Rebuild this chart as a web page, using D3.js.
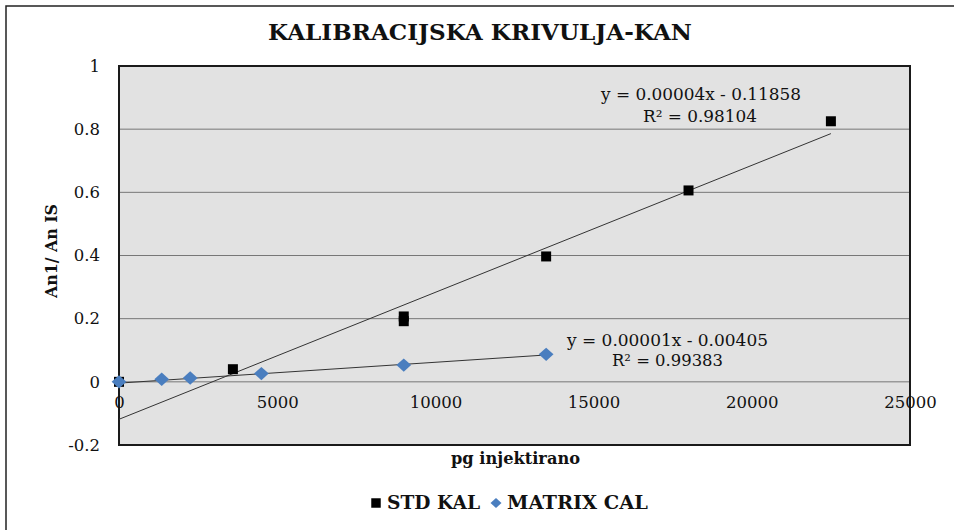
<!DOCTYPE html>
<html><head><meta charset="utf-8">
<script src="https://cdn.jsdelivr.net/npm/d3@7"></script>
<style>body{margin:0;background:#fff}svg{display:block}</style>
</head><body><svg id="c" width="954" height="530"></svg>
<script>
const stdX = [0, 3600, 9000, 9000, 13500, 18000, 22500];
const stdY = [0, 0.04, 0.192, 0.207, 0.397, 0.606, 0.825];
const matX = [0, 1350, 2250, 4500, 9000, 13500];
const matY = [0, 0.008, 0.012, 0.026, 0.053, 0.087];
const stdTrend = {slope: 0.0000402, intercept: -0.11858, x0: 0, x1: 22500};
const matTrend = {slope: 0.0000066, intercept: -0.00405, x0: 0, x1: 13500};
const xTicks = [0, 5000, 10000, 15000, 20000, 25000];
const yTicks = [-0.2, 0, 0.2, 0.4, 0.6, 0.8, 1];
const seriesNames = ["STD KAL", "MATRIX CAL"];

const FF = "'DejaVu Serif', serif";
const svg = d3.select("#c").style("font-family", FF);
const L = 119, R = 910, T = 66, B = 445;
const x = d3.scaleLinear().domain([0, 25000]).range([L, R]);
const y = d3.scaleLinear().domain([-0.2, 1]).range([B, T]);

svg.append("rect").attr("x", 6).attr("y", 6).attr("width", 960).attr("height", 540)
  .attr("fill", "#fff").attr("stroke", "#222").attr("stroke-width", 1.5);

const txt = (xx, yy, s, size, bold, len, anchor = "start") =>
  svg.append("text").attr("x", xx).attr("y", yy).attr("font-size", size)
    .attr("font-weight", bold ? "bold" : "normal").attr("fill", "#111")
    .attr("text-anchor", anchor).style("font-family", FF)
    .attr("textLength", len).attr("lengthAdjust", "spacingAndGlyphs").text(s);

txt(268, 40, "KALIBRACIJSKA KRIVULJA-KAN", 23, true, 424);

svg.append("rect").attr("x", L).attr("y", T).attr("width", R - L).attr("height", B - T)
  .attr("fill", "#e2e2e2");
svg.append("g").selectAll("line").data(yTicks.filter(d => d > -0.2 && d < 1)).join("line")
  .attr("x1", L).attr("x2", R).attr("y1", d => y(d)).attr("y2", d => y(d))
  .attr("stroke", "#777").attr("stroke-width", 1);
svg.append("rect").attr("x", L).attr("y", T).attr("width", R - L).attr("height", B - T)
  .attr("fill", "none").attr("stroke", "#1a1a1a").attr("stroke-width", 2);

const yAxis = d3.axisLeft(y).tickValues(yTicks).tickSize(0).tickPadding(19)
  .tickFormat(d => String(+d.toFixed(1)));
const gy = svg.append("g").attr("transform", `translate(${L},0)`).call(yAxis);
gy.select(".domain").remove();
gy.selectAll("text").attr("font-size", 16.5).attr("fill", "#111").style("font-family", FF);

const xAxis = d3.axisBottom(x).tickValues(xTicks).tickSize(0).tickPadding(14).tickFormat(d => String(d));
const gx = svg.append("g").attr("transform", `translate(0,${y(0)})`).call(xAxis);
gx.select(".domain").remove();
gx.selectAll("text").attr("font-size", 16.5).attr("fill", "#111").style("font-family", FF);

svg.append("text").attr("transform", `translate(57,298) rotate(-90)`)
  .attr("font-size", 16).attr("font-weight", "bold").attr("fill", "#111").style("font-family", FF)
  .attr("textLength", 94).attr("lengthAdjust", "spacingAndGlyphs")
  .text("An1/ An IS");
txt(451, 464, "pg injektirano", 16, true, 129);

[stdTrend, matTrend].forEach(t => {
  svg.append("line").attr("x1", x(t.x0)).attr("y1", y(t.slope * t.x0 + t.intercept))
    .attr("x2", x(t.x1)).attr("y2", y(t.slope * t.x1 + t.intercept))
    .attr("stroke", "#333").attr("stroke-width", 1);
});

const blue = "#4a7ebf";
svg.append("g").selectAll("path").data(stdX.map((v, i) => [v, stdY[i]])).join("path")
  .attr("d", d3.symbol().type(d3.symbolSquare).size(100)).attr("transform", d => `translate(${x(d[0])},${y(d[1])})`).attr("fill", "#000");
svg.append("g").selectAll("path").data(matX.map((v, i) => [v, matY[i]])).join("path")
  .attr("d", d3.symbol().type(d3.symbolSquare).size(90))
  .attr("transform", d => `translate(${x(d[0])},${y(d[1])}) scale(1.1,1) rotate(45)`)
  .attr("fill", blue);

txt(601, 100, "y = 0.00004x  - 0.11858", 16.5, false, 200);
txt(643, 122, "R² = 0.98104", 16.5, false, 114);
txt(567, 346, "y = 0.00001x  - 0.00405", 16.5, false, 201);
txt(612, 366, "R² = 0.99383", 16.5, false, 111);

svg.append("path").attr("d", d3.symbol().type(d3.symbolSquare).size(90)).attr("transform", "translate(376,503)").attr("fill", "#000");
txt(387, 509, seriesNames[0], 18, true, 93);
svg.append("path").attr("d", d3.symbol().type(d3.symbolSquare).size(50)).attr("transform", "translate(496,503) scale(1.1,1) rotate(45)").attr("fill", blue);
txt(507, 509, seriesNames[1], 18, true, 141);
</script></body></html>
